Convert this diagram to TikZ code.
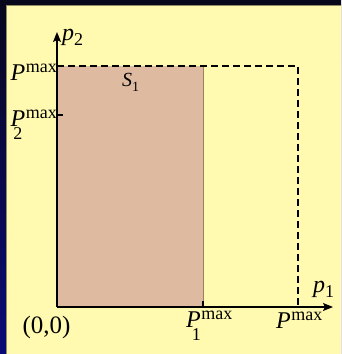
\documentclass[tikz,border=0pt]{standalone}
\usepackage{fontspec}
\setmainfont{Liberation Serif}
\usetikzlibrary{arrows.meta}
\definecolor{panel}{RGB}{255,250,175}
\definecolor{regfill}{RGB}{221,186,160}
\definecolor{navytop}{RGB}{8,8,28}
\definecolor{navybot}{RGB}{10,10,120}
\newcommand\mxs{\fontsize{18}{18}\selectfont}
\newcommand\PMsup{\textit{P}\kern0.5pt\raisebox{7.5pt}{\mxs max}}
\newcommand\PMsub[2]{\textit{P}\makebox[0pt][l]{\kern#1\raisebox{-13pt}{\mxs #2}}\kern0.5pt\raisebox{7.5pt}{\mxs max}}
\tikzset{
  lbl/.style={inner sep=0pt, font=\fontsize{24}{28}\selectfont},
  axis/.style={line width=1.3pt, -{Stealth[length=10pt,width=8pt,inset=2pt]}},
  dashline/.style={line width=1.1pt, dash pattern=on 7pt off 4pt},
}
\begin{document}
\begin{tikzpicture}[x=1pt,y=-1pt]
\useasboundingbox (0,0) rectangle (341,354);
\shade[top color=navytop, bottom color=navybot] (0,0) rectangle (341,354);
\fill[panel] (6,5) rectangle (341,354);
\draw[gray!70!olive, line width=0.8pt] (6.4,5.4) -- (341,5.4);
\draw[gray!70!olive, line width=0.8pt] (6.4,5.4) -- (6.4,354);
% coordinates
\coordinate (O) at (57,307);
\coordinate (Ytop) at (57,32);
\coordinate (Xend) at (333,307);
\coordinate (A) at (57,66);
\coordinate (B) at (203,66);
\coordinate (C) at (203,307);
\coordinate (D) at (298,66);
\coordinate (E) at (298,307);
\coordinate (T1) at (57,115);
\coordinate (T2) at (63,115);
\coordinate (C2) at (203,301);
% region
\fill[regfill] (A) rectangle (C);
\draw[gray!60!brown, line width=1pt] (B) -- (C);
\draw[line width=1.2pt] (C) -- (C2);
\draw[dashline] (A) -- (D) -- (E);
\draw[line width=1.2pt] (T1) -- (T2);
\draw[axis] (O) -- (Ytop);
\draw[axis] (O) -- (Xend);
% labels
\node[lbl, anchor=base west] (lp2) at (62,40) {\textit{p}\raisebox{-5pt}{\mxs 2}};
\node[lbl, anchor=base east] (lPm) at (57,80) {\PMsup};
\node[lbl, anchor=base east] (lP2) at (57,126) {\PMsub{-12pt}{2}};
\node[lbl, anchor=base west, font=\fontsize{20}{24}\selectfont] (lS1) at (122,86) {\textit{S}\raisebox{-5pt}{\fontsize{14}{14}\selectfont 1}};
\node[lbl, anchor=base west] (lp1) at (313,292) {\textit{p}\raisebox{-5pt}{\mxs 1}};
\node[lbl, anchor=base, font=\fontsize{25}{28}\selectfont] (l00) at (46.5,333) {(0,0)};
\node[lbl, anchor=base west] (lP1) at (186,327) {\PMsub{-9pt}{1}};
\node[lbl, anchor=base west] (lPx) at (276,328) {\PMsup};
\end{tikzpicture}
\end{document}
